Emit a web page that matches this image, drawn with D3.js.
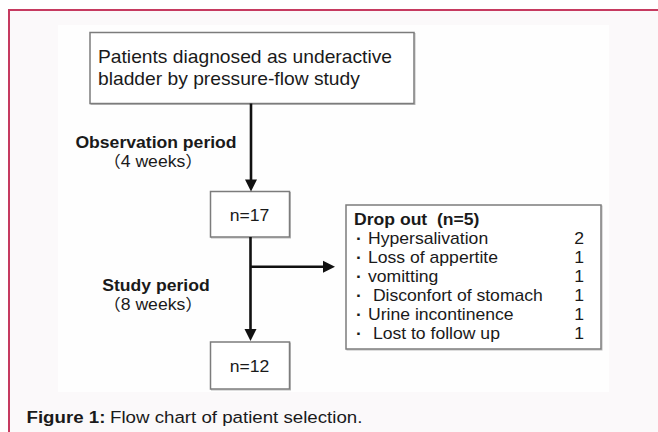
<!DOCTYPE html>
<html>
<head>
<meta charset="utf-8">
<script src="https://cdn.jsdelivr.net/npm/d3@7"></script>
<style>
  html, body { margin: 0; padding: 0; background: #fff; }
  svg { display: block; }
  text { font-family: "Liberation Sans", Arial, "Noto Sans CJK JP", sans-serif; fill: #1a1a1a; white-space: pre; }
</style>
</head>
<body>
<svg id="chart" width="658" height="432"></svg>
<script>
// Flow chart content
const topBoxLines = ["Patients diagnosed as underactive", "bladder by pressure-flow study"];
const periodNames = ["Observation period", "Study period"];
const periodDurations = ["（4 weeks）", "（8 weeks）"];
const stageCounts = ["n=17", "n=12"];
const dropHeader = "Drop out  (n=5)";
const dropReasons = ["Hypersalivation", "Loss of appertite", "vomitting", " Disconfort of stomach", "Urine incontinence", " Lost to follow up"];
const dropCounts = [2, 1, 1, 1, 1, 1];
const captionBold = "Figure 1:";
const captionText = "Flow chart of patient selection.";

const svg = d3.select("#chart");
const sx = 1.1; // the source figure is a bit stretched horizontally

// page frame
svg.append("rect").attr("x", 9).attr("y", 10).attr("width", 700).attr("height", 500)
    .attr("fill", "#fbf9fa").attr("stroke", "#c63a60").attr("stroke-width", 2);
// figure image area
svg.append("rect").attr("x", 58).attr("y", 25).attr("width", 551).attr("height", 367).attr("fill", "#fefefe");

function label(x, y, str, opts = {}) {
    return svg.append("text")
        .attr("transform", `translate(${x},${y}) scale(${sx},1)`)
        .attr("text-anchor", opts.anchor || "start")
        .attr("font-size", opts.size || 16)
        .attr("font-weight", opts.bold ? "bold" : "normal")
        .text(str);
}

function box(x, y, w, h) {
    svg.append("rect").attr("x", x + 1).attr("y", y + 1).attr("width", w).attr("height", h)
        .attr("fill", "none").attr("stroke", "#bbb").attr("stroke-width", 1);
    svg.append("rect").attr("x", x).attr("y", y).attr("width", w).attr("height", h)
        .attr("fill", "#fff").attr("stroke", "#7c7c7c").attr("stroke-width", 1.5);
}

const line = d3.line();
function arrow(x1, y1, x2, y2) {
    const len = Math.hypot(x2 - x1, y2 - y1);
    const ux = (x2 - x1) / len, uy = (y2 - y1) / len;
    const hl = 12, hw = 6;
    const bx = x2 - ux * hl, by = y2 - uy * hl;
    svg.append("path").attr("d", line([[x1, y1], [bx + ux, by + uy]]))
        .attr("stroke", "#111").attr("stroke-width", 2.6).attr("fill", "none");
    svg.append("path")
        .attr("d", line([[x2, y2], [bx - uy * hw, by + ux * hw], [bx + uy * hw, by - ux * hw]]) + "Z")
        .attr("fill", "#111");
}

// top box
box(90, 32.5, 324, 71);
topBoxLines.forEach((t, i) => label(98, 63.3 + i * 22, t, { size: 17.5 }));

// stage boxes
const stageY = [191.5, 342];
stageCounts.forEach((t, i) => {
    box(210.5, stageY[i], 79, i === 0 ? 45.5 : 47);
    label(249.5, stageY[i] + 29.5, t, { anchor: "middle" });
});

// arrows
arrow(251, 103.5, 251, 191.5);
arrow(250.5, 237, 250.5, 341);
arrow(250.5, 266.7, 335, 266.7);

// period labels
const periodY = [148, 291];
periodNames.forEach((t, i) => {
    label(156, periodY[i], t, { bold: true, anchor: "middle" });
    label(153, periodY[i] + 18.5, periodDurations[i], { anchor: "middle" });
});

// drop out box
box(346, 205, 255, 144);
label(354, 225, dropHeader, { bold: true });
const rowY = d3.scaleLinear().domain([0, 1]).range([244, 263]);
dropReasons.forEach((t, i) => {
    label(359, rowY(i), "·", { anchor: "middle", bold: true });
    label(368, rowY(i), t);
    label(584, rowY(i), String(dropCounts[i]), { anchor: "end" });
});

// caption
label(26.5, 422.7, captionBold, { bold: true, size: 17 });
label(110, 422.7, captionText, { size: 17 });
</script>
</body>
</html>
